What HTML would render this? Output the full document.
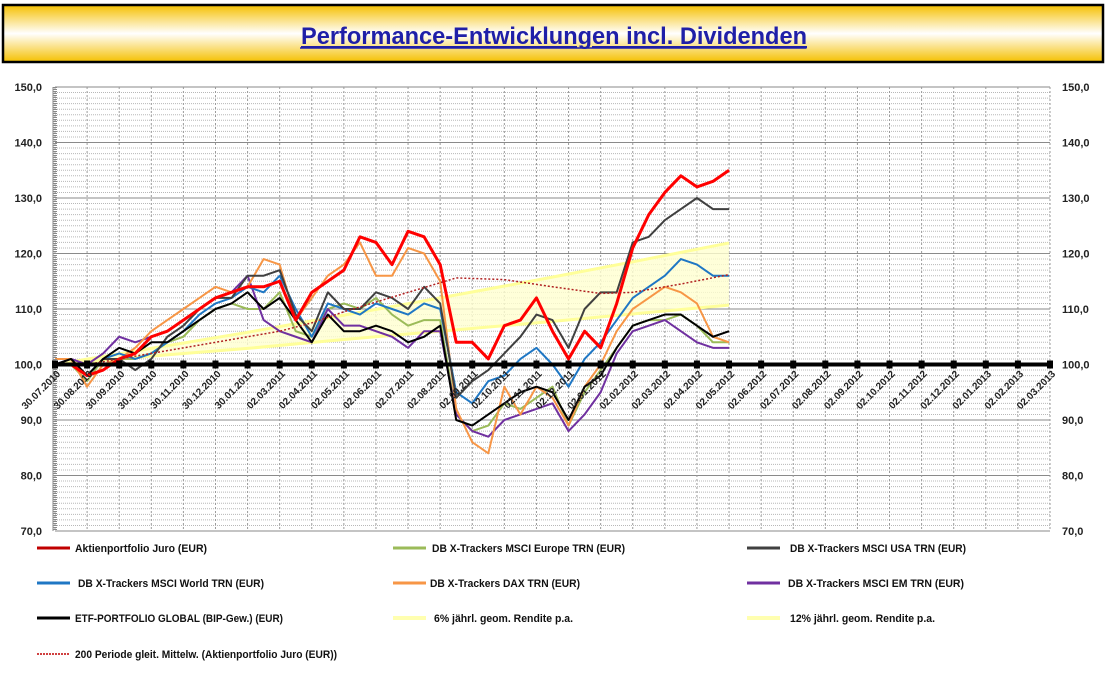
<!DOCTYPE html>
<html><head><meta charset="utf-8"><style>
body{margin:0;background:#fff;width:1109px;height:686px;overflow:hidden;font-family:"Liberation Sans",sans-serif}
</style></head><body>
<svg id="c" width="1109" height="686" xmlns="http://www.w3.org/2000/svg">
<defs>
<linearGradient id="tg" x1="0" y1="0" x2="0" y2="1">
<stop offset="0" stop-color="#f5c000"/><stop offset="0.5" stop-color="#ffffff"/><stop offset="1" stop-color="#f5c000"/>
</linearGradient>
</defs>
<rect x="3" y="5" width="1100" height="57" fill="url(#tg)" stroke="#000" stroke-width="2.5"/>
<text x="554" y="44" text-anchor="middle" font-size="24" font-weight="bold" fill="#1f1fa8" text-decoration="underline" textLength="506" lengthAdjust="spacingAndGlyphs">Performance-Entwicklungen incl. Dividenden</text>
<line x1="300" y1="48" x2="806" y2="48" stroke="#1f1fa8" stroke-width="1.5"/>
<g id="grid"></g><g id="bands"></g><g id="series"></g><g id="axes"></g><g id="legend"></g>
</svg>
<script>
const ns="http://www.w3.org/2000/svg";
// ---- data ----
const dateLabels=["30.07.2010","30.08.2010","30.09.2010","30.10.2010","30.11.2010","30.12.2010","30.01.2011","02.03.2011","02.04.2011","02.05.2011","02.06.2011","02.07.2011","02.08.2011","02.09.2011","02.10.2011","02.11.2011","02.12.2011","02.01.2012","02.02.2012","02.03.2012","02.04.2012","02.05.2012","02.06.2012","02.07.2012","02.08.2012","02.09.2012","02.10.2012","02.11.2012","02.12.2012","02.01.2013","02.02.2013","02.03.2013"];
const yTicks=[70,80,90,100,110,120,130,140,150];
const stepMonths=0.5;
const juro=[100,100,98,99,101,102,105,106,108,110,112,113,114,114,115,108,113,115,117,123,122,118,124,123,118,104,104,101,107,108,112,106,101,106,103,111,121,127,131,134,132,133,135];
const europe=[100,100,97,101,101,101,102,104,105,108,110,111,110,110,113,106,105,110,111,110,112,109,107,108,108,91,88,89,93,92,94,96,89,95,99,103,107,108,108,109,107,104,104];
const usa=[100,100,98,101,101,99,101,105,107,110,112,112,116,116,117,109,106,113,110,110,113,112,110,114,111,94,97,99,102,105,109,108,103,110,113,113,122,123,126,128,130,128,128];
const world=[100,100,98,101,102,101,102,104,106,109,111,112,114,113,116,110,105,111,110,109,111,110,109,111,110,95,93,97,98,101,103,100,96,101,104,108,112,114,116,119,118,116,116];
const dax=[101,101,96,100,101,103,106,108,110,112,114,113,114,119,118,108,112,116,118,122,116,116,121,120,115,92,86,84,96,91,96,94,89,96,100,106,110,112,114,113,111,105,104];
const em=[100,101,100,102,105,104,105,106,108,110,112,113,116,108,106,105,104,110,107,107,106,105,103,106,106,91,88,87,90,91,92,93,88,91,95,102,106,107,108,106,104,103,103];
const etf=[100,101,98,101,103,102,104,104,106,108,110,111,113,110,112,108,104,109,106,106,107,106,104,105,107,90,89,91,93,95,96,95,90,96,98,103,107,108,109,109,107,105,106];
const bandMonths=[0,3,6,9,12,15,18,21];
const ret6=[100,101.5,102.9,104.5,106.0,107.5,109.1,110.7];
const ret12=[100,102.9,105.8,108.9,112.0,115.2,118.5,121.9];
const maMonths=[1,3,5,7,8,9,11,12.5,14,15.5,17,18,19.5,21];
const maValues=[100,102,104,106,107.5,109.5,113,115.6,115.3,114,112.8,113,114.5,116.2];
// ---- axes ----
const X0=55,X1=1050,Y0=87,Y1=531,VMIN=70,VMAX=150;
const xs=m=>X0+m*(X1-X0)/(dateLabels.length-1);
const ys=v=>Y1-(v-VMIN)*(Y1-Y0)/(VMAX-VMIN);
function mk(t,a,p){const e=document.createElementNS(ns,t);for(const k in a)e.setAttribute(k,a[k]);(p||document.getElementById('c')).appendChild(e);return e;}
const G=document.getElementById('grid'),A=document.getElementById('axes'),S=document.getElementById('series'),B=document.getElementById('bands'),L=document.getElementById('legend');
for(let v=VMIN;v<=VMAX;v++){
  const l=mk('line',{x1:X0,x2:X1,y1:ys(v),y2:ys(v),stroke:v%10==0?'#8a8a8a':'#b8b8b8','stroke-width':1,'stroke-dasharray':v%10==0?'':'1,1'},G);
  
  
}
dateLabels.forEach((d,i)=>{
  const l=mk('line',{x1:xs(i),x2:xs(i),y1:Y0,y2:Y1,stroke:'#9a9a9a','stroke-dasharray':'2,2'},G);
  
  
});
mk('line',{x1:X0,x2:X0,y1:Y0,y2:Y1,stroke:'#888','stroke-width':4,'stroke-dasharray':'1,1'},A);
mk('line',{x1:X0-2,x2:X0-2,y1:Y0,y2:Y1,stroke:'#888','stroke-width':1},A);
yTicks.forEach(v=>{
  const t=mk('text',{x:42,y:ys(v)+4,'text-anchor':'end','font-size':11,'font-weight':'bold',fill:'#222'},A);t.textContent=v.toFixed(1).replace('.',',');
  
  
  const r=mk('text',{x:1062,y:ys(v)+4,'font-size':11,'font-weight':'bold',fill:'#222'},A);r.textContent=v.toFixed(1).replace('.',',');
  
  
});
// bands
const up=bandMonths.map((m,i)=>xs(m)+','+ys(ret12[i])),lo=bandMonths.map((m,i)=>xs(m)+','+ys(ret6[i])).reverse();
const poly=mk('polygon',{points:up.concat(lo).join(' '),fill:'#ffffd0','fill-opacity':0.8},B);


function line(vals,ms,color,w,name,dash,par){
  const pts=vals.map((v,i)=>xs(ms?ms[i]:i*stepMonths)+','+ys(v)).join(' ');
  const p=mk('polyline',{points:pts,fill:'none',stroke:color,'stroke-width':w,'stroke-linejoin':'round'},par||S);
  if(dash)p.setAttribute('stroke-dasharray',dash);
  
  
}
line(ret6,bandMonths,'#ffff99',3,'line-6pct',null,B);
line(ret12,bandMonths,'#ffff99',3,'line-12pct',null,B);
line(europe,null,'#9bbb59',2,'series-europe');
line(em,null,'#7030a0',2,'series-em');
line(dax,null,'#f79646',2,'series-dax');
line(world,null,'#1f77c4',2,'series-world');
line(usa,null,'#404040',2,'series-usa');
line(etf,null,'#000',2,'series-etf');
line(juro,null,'#ff0000',3,'series-juro');
line(maValues,maMonths,'#b02020',1.5,'series-moving-average','2,2');
// baseline 100
const bl=mk('line',{x1:X0,x2:X1,y1:ys(100),y2:ys(100),stroke:'#000','stroke-width':4},A);


dateLabels.forEach((d,i)=>{
  const r=mk('rect',{x:xs(i)-3,y:ys(100)-4,width:6,height:8,fill:'#000'},A);
  
  
  const t=mk('text',{x:0,y:0,'text-anchor':'end','font-size':10,'font-weight':'bold',fill:'#222',transform:`translate(${xs(i)+6},${ys(100)+10}) rotate(-45)`},A);
  t.textContent=d;
  
  
});
// legend
const leg=[
 [37,548,'#c00000',3,'Aktienportfolio Juro (EUR)',75,132,null],
 [393,548,'#9bbb59',3,'DB X-Trackers MSCI Europe TRN (EUR)',432,193,null],
 [747,548,'#404040',3,'DB X-Trackers MSCI USA TRN (EUR)',790,176,null],
 [37,583,'#1f77c4',3,'DB X-Trackers MSCI World TRN (EUR)',78,186,null],
 [393,583,'#f79646',3,'DB X-Trackers DAX TRN (EUR)',430,150,null],
 [747,583,'#7030a0',3,'DB X-Trackers  MSCI EM TRN (EUR)',788,176,null],
 [37,618,'#000',3,'ETF-PORTFOLIO GLOBAL (BIP-Gew.) (EUR)',75,208,null],
 [393,618,'#ffffb0',4,'6% jährl. geom. Rendite p.a.',434,139,null],
 [747,618,'#ffffb0',4,'12% jährl. geom. Rendite p.a.',790,145,null],
 [37,654,'#c00000',1.5,'200 Periode gleit. Mittelw. (Aktienportfolio Juro (EUR))',75,262,'2,1']
];
leg.forEach(e=>{
  const g=mk('g',{},L);
  
  
  const l=mk('line',{x1:e[0],x2:e[0]+33,y1:e[1],y2:e[1],stroke:e[2],'stroke-width':e[3]},g);
  if(e[7])l.setAttribute('stroke-dasharray',e[7]);
  const t=mk('text',{x:e[5],y:e[1]+4,'font-size':11,'font-weight':'bold',fill:'#111',textLength:e[6],lengthAdjust:'spacingAndGlyphs'},g);
  t.textContent=e[4];
});
</script>
</body></html>
